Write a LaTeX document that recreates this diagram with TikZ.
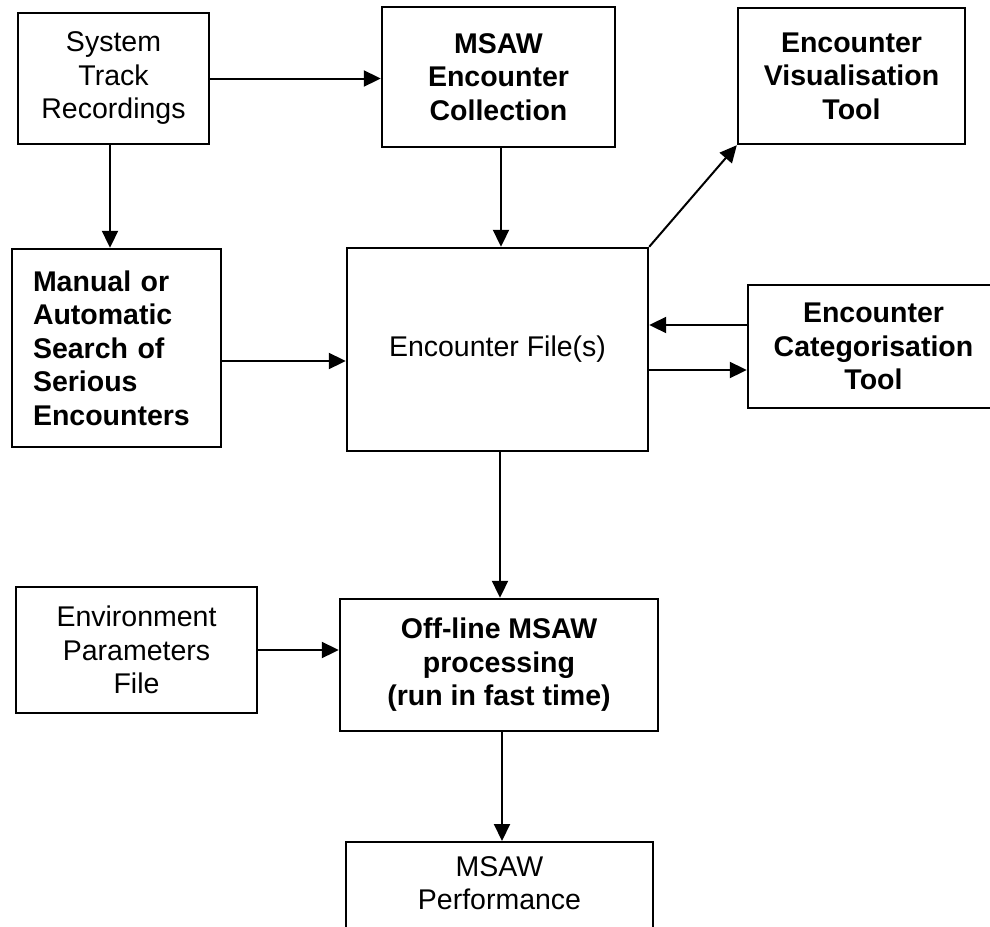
\documentclass[tikz,border=0pt]{standalone}
\usepackage{fontspec}
\setmainfont{Liberation Sans}
\usepackage{tikz}
\usetikzlibrary{arrows.meta}
\usetikzlibrary{calc}
\tikzset{box/.style={draw, line width=1.2pt, rectangle, align=center, inner sep=4pt, font=\fontsize{14.25}{16.75}\selectfont}}
\tikzset{heavy/.style={box, font=\fontsize{14.25}{16.75}\selectfont\bfseries}}
\tikzset{flow/.style={line width=1pt, -{Triangle[length=8.5pt,width=8pt]}}}

\begin{document}
\begin{tikzpicture}[x=0.5pt, y=-0.5pt]
	% page area (boxes on the right and bottom run off it)
	\clip (0,0) rectangle (990,926);

	% TOP ROW
	\node[box, minimum width=95.5pt, minimum height=65.5pt] (tracks) at (113.5,78.5) {System\\Track\\Recordings};
	\node[heavy, minimum width=116.5pt, minimum height=70pt] (collect) at (498.5,77) {MSAW\\Encounter\\Collection};
	\node[heavy, minimum width=113.5pt, minimum height=68pt] (visual) at (851.5,76) {Encounter\\Visualisation\\Tool};

	% MIDDLE ROW
	\node[heavy, align=left, text width=83.5pt, inner xsep=10.5pt, minimum height=99pt] (search) at (116.5,348) {Manual or\\Automatic\\Search of\\Serious\\Encounters};
	\node[box, minimum width=150.5pt, minimum height=101.5pt] (files) at (497.5,349.5) {Encounter File(s)};
	\node[heavy, minimum width=125.5pt, minimum height=61.5pt] (categ) at (873.5,346.5) {Encounter\\Categorisation\\Tool};

	% LOWER ROWS
	\node[box, minimum width=120.5pt, minimum height=63pt] (params) at (136.5,650) {Environment\\Parameters\\File};
	\node[heavy, minimum width=159pt, minimum height=66pt] (offline) at (499,665) {Off-line MSAW\\processing\\(run in fast time)};
	\node[box, anchor=north, minimum width=153.5pt, text depth=50pt, inner ysep=7pt] (perf) at (499.5,841) {MSAW\\Performance};

	% Horizontals
	\draw[flow] (tracks.east) -- (tracks.east -| collect.west);
	\draw[flow] ([yshift=-6.5pt]search.east) -- ([yshift=-6.5pt]search.east -| files.west);
	\draw[flow] ([yshift=10.75pt]categ.west) -- ([yshift=10.75pt]categ.west -| files.east);
	\draw[flow] ([yshift=-10.25pt]files.east) -- ([yshift=-10.25pt]files.east -| categ.west);
	\draw[flow] (params.east) -- (params.east -| offline.west);

	% Verticals
	\draw[flow] ([xshift=-1.75pt]tracks.south) -- ([xshift=-1.75pt]tracks.south |- search.north);
	\draw[flow] ([xshift=1.25pt]collect.south) -- ([xshift=1.25pt]collect.south |- files.north);
	\draw[flow] ([xshift=1.25pt]files.south) -- ([xshift=1.25pt]files.south |- offline.north);
	\draw[flow] ([xshift=1.5pt]offline.south) -- ([xshift=1.5pt]offline.south |- perf.north);

	% Diagonal
	\draw[flow] (files.north east) -- (visual.south west);
\end{tikzpicture}
\end{document}
